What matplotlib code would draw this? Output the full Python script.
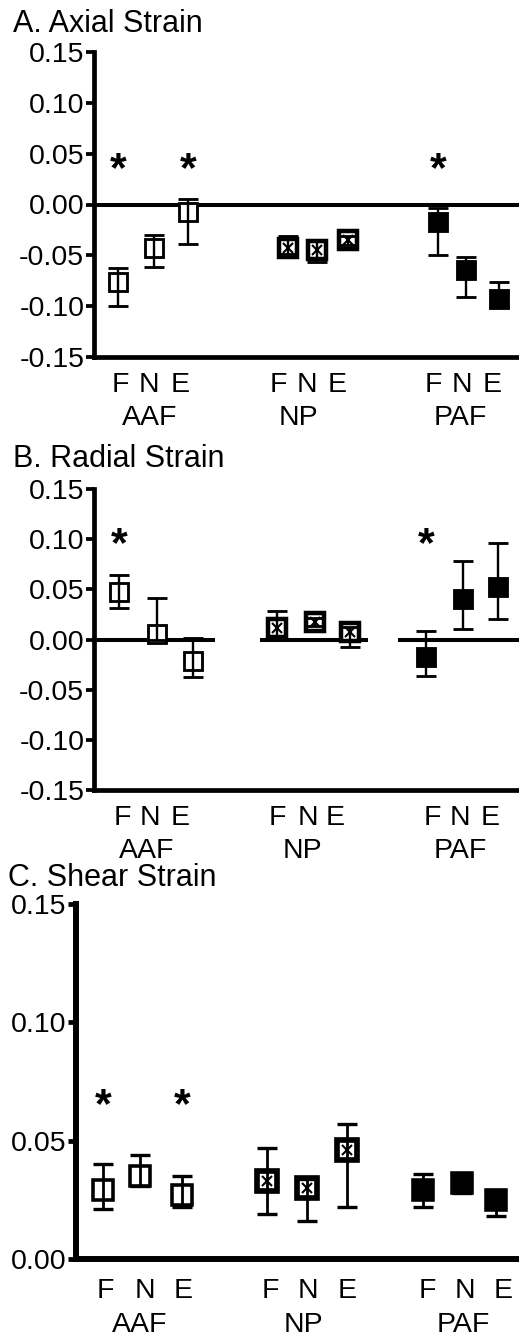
import matplotlib
matplotlib.use("Agg")
import matplotlib.pyplot as plt
import numpy as np

plt.rcParams['font.family'] = ['Liberation Sans', 'DejaVu Sans']

regions = ["AAF", "NP", "PAF"]
positions = ["F", "N", "E"]

# ---- Panel A: Axial strain (mean, lower, upper) ----
axial_mean = {"AAF": [-0.076, -0.043, -0.007], "NP": [-0.043, -0.045, -0.035], "PAF": [-0.017, -0.064, -0.093]}
axial_low = {"AAF": [-0.100, -0.061, -0.039], "NP": [-0.049, -0.057, -0.040], "PAF": [-0.050, -0.091, -0.100]}
axial_high = {"AAF": [-0.062, -0.030, 0.005], "NP": [-0.031, -0.036, -0.031], "PAF": [-0.003, -0.052, -0.076]}
axial_sig = [("AAF", 0), ("AAF", 2), ("PAF", 0)]
axial_sig_y = 0.046

# ---- Panel B: Radial strain ----
radial_mean = {"AAF": [0.047, 0.005, -0.021], "NP": [0.011, 0.017, 0.007], "PAF": [-0.017, 0.040, 0.052]}
radial_low = {"AAF": [0.031, 0.000, -0.037], "NP": [0.000, 0.013, -0.007], "PAF": [-0.036, 0.010, 0.020]}
radial_high = {"AAF": [0.064, 0.041, 0.001], "NP": [0.028, 0.021, 0.012], "PAF": [0.008, 0.078, 0.096]}
radial_sig = [("AAF", 0), ("PAF", 0)]
radial_sig_y = 0.107

# ---- Panel C: Shear strain ----
shear_mean = {"AAF": [0.029, 0.035, 0.027], "NP": [0.033, 0.030, 0.046], "PAF": [0.029, 0.032, 0.025]}
shear_low = {"AAF": [0.021, 0.031, 0.022], "NP": [0.019, 0.016, 0.022], "PAF": [0.022, 0.028, 0.018]}
shear_high = {"AAF": [0.040, 0.044, 0.035], "NP": [0.047, 0.034, 0.057], "PAF": [0.036, 0.036, 0.029]}
shear_sig = [("AAF", 0), ("AAF", 2)]
shear_sig_y = 0.070

W, H = 519, 1339
fig = plt.figure(figsize=(W / 100, H / 100), dpi=100)

def fx(px):
    return px / W

def fy(py):
    return 1 - py / H

panels = [
    dict(title="A. Axial Strain", tx=13, tb=32, left=94, top=52, bottom=357,
         mean=axial_mean, low=axial_low, high=axial_high, sig=axial_sig, sig_y=axial_sig_y,
         ylim=(-0.15, 0.15), yticks=[-0.15, -0.10, -0.05, 0.0, 0.05, 0.10, 0.15],
         xpos={"AAF": [24, 60, 94], "NP": [194, 223, 254], "PAF": [344, 372, 405]},
         tickpos={"AAF": [26, 55, 86], "NP": [184, 213, 243], "PAF": [339, 368, 398]},
         grouppos={"AAF": 56, "NP": 204, "PAF": 366},
         zero=[(0, 425)], ms=12.5, spw=3.4, elw=1.7, pad1=25.5, pad2=49,
         spine_w=3.4),
    dict(title="B. Radial Strain", tx=13, tb=467, left=94, top=489, bottom=790,
         mean=radial_mean, low=radial_low, high=radial_high, sig=radial_sig, sig_y=radial_sig_y,
         ylim=(-0.15, 0.15), yticks=[-0.15, -0.10, -0.05, 0.0, 0.05, 0.10, 0.15],
         xpos={"AAF": [25, 63, 99], "NP": [183, 221, 256], "PAF": [332, 369, 404]},
         tickpos={"AAF": [28, 56, 86], "NP": [183, 214, 241], "PAF": [338, 366, 396]},
         grouppos={"AAF": 53, "NP": 208, "PAF": 366},
         zero=[(0, 121), (166, 274), (304, 425)], ms=12.5, spw=3.4, elw=1.7, pad1=25.5, pad2=49,
         spine_w=3.4),
    dict(title="C. Shear Strain", tx=8, tb=886, left=76, top=904, bottom=1259,
         mean=shear_mean, low=shear_low, high=shear_high, sig=shear_sig, sig_y=shear_sig_y,
         ylim=(0.0, 0.15), yticks=[0.0, 0.05, 0.10, 0.15],
         xpos={"AAF": [27, 64, 106], "NP": [191, 231, 271], "PAF": [347, 386, 420]},
         tickpos={"AAF": [29, 69, 107], "NP": [194, 232, 271], "PAF": [351, 389, 427]},
         grouppos={"AAF": 64, "NP": 227, "PAF": 387},
         zero=[], ms=14, spw=4.3, elw=2.0, pad1=28, pad2=52.5,
         spine_w=4.3),
]

fs = 20.5

for p in panels:
    ax = fig.add_axes([fx(p["left"]), fy(p["bottom"]), 1 - fx(p["left"]), fy(p["top"]) - fy(p["bottom"])])
    ax.set_xlim(0, W - p["left"])
    ax.set_ylim(*p["ylim"])
    for s in ["top", "right"]:
        ax.spines[s].set_visible(False)
    for s in ["left", "bottom"]:
        ax.spines[s].set_linewidth(p["spine_w"])
        ax.spines[s].set_capstyle("projecting")
    ax.set_yticks(p["yticks"])
    ax.set_yticklabels([f"{v:.2f}" for v in p["yticks"]])
    ax.tick_params(axis="y", direction="out", length=6, width=p["spine_w"] * 0.8, pad=1.0, labelsize=fs)

    for seg in p["zero"]:
        ax.plot(seg, [0, 0], color="black", lw=2.9, solid_capstyle="butt", zorder=2)

    tick_x, tick_lab = [], []
    for r in regions:
        for i, pos in enumerate(positions):
            tick_x.append(p["tickpos"][r][i])
            tick_lab.append(pos)
    ax.set_xticks(tick_x)
    ax.set_xticklabels(tick_lab)
    ax.tick_params(axis="x", length=0, pad=p["pad1"], labelsize=fs)
    for lbl in ax.get_xticklabels():
        lbl.set_verticalalignment("baseline")

    for r in regions:
        ax.annotate(r, xy=(p["grouppos"][r], 0), xycoords=("data", "axes fraction"),
                    xytext=(0, -p["pad2"]), textcoords="offset points",
                    ha="center", va="baseline", fontsize=fs, annotation_clip=False)

    for r in regions:
        xs = np.array(p["xpos"][r], dtype=float)
        m = np.array(p["mean"][r])
        lo = np.array(p["low"][r])
        hi = np.array(p["high"][r])
        yerr = np.vstack([m - lo, hi - m])
        if r == "AAF":
            ax.plot(xs, m, ls="none", marker="s", ms=p["ms"], mfc="white", mec="black", mew=p["spw"] * 0.6, zorder=3)
        elif r == "NP":
            ax.plot(xs, m, ls="none", marker="s", ms=p["ms"], mfc="white", mec="black", mew=p["spw"] * 0.95, zorder=3)
            ax.plot(xs, m, ls="none", marker="x", ms=p["ms"] * 0.55, mec="black", mew=1.5, zorder=4)
        else:
            ax.plot(xs, m, ls="none", marker="s", ms=p["ms"], mfc="black", mec="black", mew=p["spw"] * 0.6, zorder=3)
        ax.errorbar(xs, m, yerr=yerr, fmt="none", ecolor="black", elinewidth=p["elw"],
                    capsize=7, capthick=p["elw"] * 1.2, zorder=5)

    for (r, i) in p["sig"]:
        ax.annotate("*", xy=(p["xpos"][r][i], p["sig_y"]), xycoords="data",
                    xytext=(0, -17), textcoords="offset points",
                    ha="center", va="baseline", fontsize=31, fontweight="bold")

    fig.text(fx(p["tx"]), fy(p["tb"]), p["title"], fontsize=22, ha="left", va="baseline")

fig.savefig("out.png", dpi=100)
